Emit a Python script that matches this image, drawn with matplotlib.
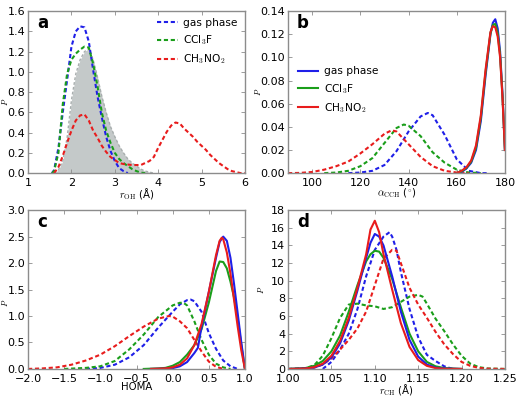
import matplotlib
matplotlib.use("Agg")
import matplotlib.pyplot as plt

# ---------------- Panel a: r_OH ----------------
a_gas_x = [1.55, 1.6, 1.7, 1.8, 1.9, 2.0, 2.1, 2.2, 2.3, 2.4, 2.5, 2.6, 2.7, 2.8, 2.9, 3.0, 3.1, 3.2, 3.3]
a_gas_y = [0, 0.03, 0.25, 0.6, 0.92, 1.25, 1.4, 1.45, 1.44, 1.3, 1.02, 0.76, 0.55, 0.36, 0.22, 0.12, 0.05, 0.02, 0.0]
a_ccl_x = [1.55, 1.6, 1.7, 1.8, 1.9, 2.0, 2.1, 2.2, 2.3, 2.4, 2.5, 2.6, 2.7, 2.8, 2.9, 3.0, 3.1, 3.2, 3.3, 3.4, 3.5, 3.6, 3.7]
a_ccl_y = [0, 0.02, 0.2, 0.68, 0.98, 1.12, 1.18, 1.22, 1.25, 1.24, 1.08, 0.86, 0.6, 0.42, 0.3, 0.2, 0.14, 0.1, 0.07, 0.04, 0.02, 0.005, 0]
a_ch3_x = [1.6, 1.7, 1.8, 1.9, 2.0, 2.1, 2.2, 2.3, 2.4, 2.5, 2.6, 2.7, 2.8, 2.9, 3.0, 3.1, 3.2, 3.4, 3.6, 3.8, 3.9,
           4.0, 4.1, 4.2, 4.3, 4.4, 4.5, 4.6, 4.7, 4.8, 4.9, 5.0, 5.1, 5.2, 5.3, 5.4, 5.5, 5.6, 5.7, 5.8, 5.9, 6.0]
a_ch3_y = [0, 0.06, 0.17, 0.3, 0.42, 0.52, 0.57, 0.58, 0.52, 0.42, 0.35, 0.27, 0.21, 0.16, 0.13, 0.1, 0.09, 0.08, 0.08, 0.12, 0.16,
           0.25, 0.33, 0.41, 0.47, 0.5, 0.49, 0.44, 0.4, 0.36, 0.31, 0.27, 0.23, 0.18, 0.14, 0.1, 0.07, 0.04, 0.02, 0.01, 0.0, 0.0]
a_ref_x = [1.6, 1.7, 1.8, 1.9, 2.0, 2.1, 2.2, 2.3, 2.4, 2.5, 2.6, 2.7, 2.8, 2.9, 3.0, 3.1, 3.2, 3.3, 3.4, 3.5, 3.6, 3.7, 3.8, 3.9]
a_ref_y = [0, 0.03, 0.12, 0.35, 0.72, 0.98, 1.12, 1.2, 1.23, 1.12, 0.95, 0.76, 0.6, 0.46, 0.36, 0.27, 0.2, 0.14, 0.1, 0.07, 0.04, 0.02, 0.01, 0]

# ---------------- Panel b: alpha_CCH ----------------
b_sol_x = [160, 162, 164, 166, 168, 170, 172, 174, 175, 176, 177, 178, 179, 180]
b_gas_sol_y = [0.0, 0.001, 0.004, 0.009, 0.02, 0.045, 0.085, 0.12, 0.13, 0.133, 0.125, 0.105, 0.068, 0.02]
b_ccl_sol_y = [0.0, 0.0015, 0.0045, 0.01, 0.022, 0.048, 0.088, 0.121, 0.128, 0.129, 0.121, 0.102, 0.066, 0.02]
b_ch3_sol_y = [0.0, 0.002, 0.005, 0.011, 0.024, 0.05, 0.09, 0.122, 0.127, 0.126, 0.118, 0.1, 0.065, 0.02]
b_gas_x = [115, 120, 125, 130, 135, 140, 145, 148, 150, 155, 160, 165, 170, 173]
b_gas_y = [0, 0.0005, 0.002, 0.007, 0.019, 0.036, 0.049, 0.052, 0.05, 0.033, 0.012, 0.002, 0.0, 0.0]
b_ccl_x = [105, 110, 115, 120, 125, 130, 135, 138, 140, 145, 150, 155, 160, 165, 170]
b_ccl_y = [0, 0.0005, 0.002, 0.006, 0.013, 0.026, 0.039, 0.042, 0.041, 0.032, 0.018, 0.009, 0.003, 0.0005, 0]
b_ch3_x = [90, 95, 100, 105, 110, 115, 120, 125, 130, 133, 135, 140, 145, 150, 155, 160, 165]
b_ch3_y = [0, 0.0002, 0.001, 0.003, 0.006, 0.01, 0.017, 0.025, 0.034, 0.037, 0.036, 0.025, 0.014, 0.006, 0.002, 0.0005, 0]

# ---------------- Panel c: HOMA ----------------
c_gas_sol_x = [-0.3, -0.1, 0.0, 0.1, 0.2, 0.3, 0.35, 0.4, 0.5, 0.6, 0.65, 0.7, 0.75, 0.8, 0.85, 0.9, 0.95, 1.0]
c_gas_sol_y = [0, 0.005, 0.015, 0.05, 0.13, 0.3, 0.4, 0.8, 1.45, 2.1, 2.4, 2.5, 2.42, 2.1, 1.6, 1.05, 0.5, 0.0]
c_ch3_sol_x = [-0.3, -0.1, 0.0, 0.1, 0.2, 0.3, 0.4, 0.5, 0.6, 0.65, 0.68, 0.7, 0.75, 0.8, 0.85, 0.9, 0.95, 1.0]
c_ch3_sol_y = [0, 0.01, 0.03, 0.08, 0.2, 0.45, 0.85, 1.45, 2.15, 2.42, 2.48, 2.45, 2.2, 1.8, 1.3, 0.8, 0.35, 0.0]
c_ccl_sol_x = [-0.4, -0.2, -0.1, 0.0, 0.1, 0.2, 0.3, 0.4, 0.5, 0.6, 0.65, 0.7, 0.75, 0.8, 0.85, 0.9, 0.95, 1.0]
c_ccl_sol_y = [0, 0.01, 0.02, 0.06, 0.13, 0.27, 0.45, 0.75, 1.25, 1.85, 2.03, 2.02, 1.9, 1.65, 1.35, 0.95, 0.45, 0.0]
c_gas_x = [-1.2, -1.0, -0.8, -0.6, -0.4, -0.2, 0.0, 0.1, 0.2, 0.25, 0.3, 0.4, 0.5, 0.6, 0.7, 0.8, 0.9]
c_gas_y = [0, 0.02, 0.08, 0.22, 0.45, 0.78, 1.08, 1.22, 1.3, 1.31, 1.28, 1.08, 0.68, 0.38, 0.16, 0.05, 0.0]
c_ccl_x = [-1.5, -1.2, -1.0, -0.8, -0.6, -0.4, -0.2, 0.0, 0.1, 0.15, 0.2, 0.3, 0.4, 0.5, 0.6, 0.7, 0.8]
c_ccl_y = [0, 0.02, 0.05, 0.15, 0.37, 0.65, 0.98, 1.2, 1.25, 1.25, 1.2, 0.9, 0.55, 0.27, 0.1, 0.03, 0.0]
c_ch3_x = [-2.0, -1.8, -1.6, -1.4, -1.2, -1.0, -0.8, -0.6, -0.4, -0.2, -0.05, 0.0, 0.1, 0.2, 0.3, 0.4, 0.5, 0.6, 0.7]
c_ch3_y = [0, 0.01, 0.03, 0.08, 0.16, 0.27, 0.43, 0.62, 0.8, 0.95, 1.0, 0.99, 0.9, 0.77, 0.55, 0.33, 0.14, 0.04, 0.0]

# ---------------- Panel d: r_CH ----------------
d_sol_x = [1.00, 1.02, 1.03, 1.04, 1.05, 1.06, 1.07, 1.08, 1.09, 1.095, 1.10, 1.105, 1.11, 1.12, 1.13, 1.14, 1.15, 1.16, 1.17, 1.18, 1.20]
d_ch3_sol_y = [0, 0.05, 0.2, 0.6, 1.5, 3.2, 5.8, 9.2, 13.0, 15.8, 16.8, 15.5, 13.0, 9.0, 5.2, 2.5, 1.0, 0.35, 0.1, 0.02, 0]
d_gas_sol_y = [0, 0.05, 0.15, 0.5, 1.3, 2.9, 5.5, 8.9, 12.6, 14.3, 15.3, 15.0, 14.0, 10.5, 6.5, 3.3, 1.4, 0.5, 0.15, 0.04, 0]
d_ccl_sol_y = [0, 0.1, 0.35, 0.9, 2.0, 3.8, 6.5, 9.5, 12.2, 13.0, 13.4, 13.3, 12.6, 10.2, 7.0, 4.0, 2.0, 0.8, 0.3, 0.1, 0]
d_gas_x = [1.04, 1.05, 1.06, 1.07, 1.08, 1.09, 1.10, 1.11, 1.117, 1.12, 1.125, 1.13, 1.14, 1.15, 1.16, 1.17, 1.18, 1.19]
d_gas_y = [0, 0.8, 2.2, 4.0, 6.8, 10.5, 13.5, 15.0, 15.5, 15.0, 13.5, 11.0, 6.8, 3.6, 1.6, 0.9, 0.3, 0.0]
d_ch3_x = [1.02, 1.03, 1.04, 1.05, 1.06, 1.07, 1.08, 1.09, 1.10, 1.11, 1.12, 1.125, 1.13, 1.14, 1.15, 1.16, 1.17, 1.18, 1.19, 1.20, 1.21, 1.22, 1.23, 1.25]
d_ch3_y = [0, 0.15, 0.5, 1.2, 2.2, 3.3, 4.6, 6.5, 9.5, 12.5, 13.5, 13.4, 12.0, 9.2, 7.3, 5.8, 4.2, 2.8, 1.7, 0.8, 0.35, 0.12, 0.03, 0]
d_ccl_x = [1.00, 1.02, 1.03, 1.04, 1.05, 1.06, 1.07, 1.08, 1.09, 1.10, 1.11, 1.12, 1.13, 1.14, 1.15, 1.155, 1.16, 1.17, 1.18, 1.19, 1.20, 1.21, 1.22, 1.23, 1.25]
d_ccl_y = [0, 0.1, 0.4, 1.5, 3.5, 5.8, 7.3, 7.4, 7.2, 7.1, 6.8, 7.0, 7.6, 8.2, 8.4, 8.2, 7.4, 5.7, 4.3, 2.8, 1.5, 0.6, 0.2, 0.05, 0]

labels = ["gas phase", "CCl$_3$F", "CH$_3$NO$_2$"]
C_BLUE, C_GREEN, C_RED = "#1f1fe8", "#1a9e1a", "#e81c1c"
SPINE = "#8c8c8c"
DASH = (2.0, 1.3)
LW = 1.5

plt.rcParams["font.family"] = "DejaVu Sans"
plt.rcParams["mathtext.fontset"] = "cm"

fig = plt.figure(figsize=(5.2, 3.98), dpi=100)
axa = fig.add_axes([0.054, 0.565, 0.417, 0.407])
axb = fig.add_axes([0.554, 0.565, 0.417, 0.407])
axc = fig.add_axes([0.054, 0.073, 0.417, 0.399])
axd = fig.add_axes([0.554, 0.073, 0.417, 0.399])

def style(ax, letter, xlabel, ylab_x, ylab_y=0.5):
    for s in ax.spines.values():
        s.set_color(SPINE)
        s.set_linewidth(1.0)
    ax.tick_params(direction="in", top=True, right=True, colors=SPINE,
                   labelcolor="black", labelsize=8, length=3, width=0.6)
    ax.tick_params(axis="y", pad=2)
    ax.tick_params(axis="x", pad=3.5)
    ax.set_ylabel("$P$", fontsize=6)
    ax.yaxis.set_label_coords(ylab_x, ylab_y)
    ax.set_xlabel(xlabel, fontsize=7.3)
    ax.xaxis.set_label_coords(0.5, -0.085)
    ax.text(0.04, 0.925, letter, transform=ax.transAxes, fontsize=12,
            fontweight="bold", va="center", ha="left")

def dline(ax, x, y, c, label=None):
    ax.plot(x, y, color=c, lw=LW, linestyle="--", dashes=DASH, label=label)

LEG = dict(frameon=False, fontsize=7.7, handlelength=1.9, handletextpad=0.55,
           labelspacing=0.5)

# Panel a
axa.fill_between(a_ref_x, a_ref_y, color="#c4c9c9", lw=0)
axa.plot(a_ref_x, a_ref_y, color="#a8aeae", lw=1.0, linestyle="--", dashes=(2, 1.5))
dline(axa, a_gas_x, a_gas_y, C_BLUE, labels[0])
dline(axa, a_ccl_x, a_ccl_y, C_GREEN, labels[1])
dline(axa, a_ch3_x, a_ch3_y, C_RED, labels[2])
axa.set_xlim(1, 6)
axa.set_ylim(0, 1.6)
axa.set_xticks([1, 2, 3, 4, 5, 6])
axa.set_yticks([0.0, 0.2, 0.4, 0.6, 0.8, 1.0, 1.2, 1.4, 1.6])
axa.set_yticklabels(["0.0", "0.2", "0.4", "0.6", "0.8", "1.0", "1.2", "1.4", "1.6"])
style(axa, "a", r"$r_{\rm OH}$ (Å)", -0.083, 0.4375)
axa.legend(loc="upper right", borderaxespad=0.25, **LEG)

# Panel b
dline(axb, b_gas_x, b_gas_y, C_BLUE)
dline(axb, b_ccl_x, b_ccl_y, C_GREEN)
dline(axb, b_ch3_x, b_ch3_y, C_RED)
axb.plot(b_sol_x, b_gas_sol_y, color=C_BLUE, lw=LW, label=labels[0])
axb.plot(b_sol_x, b_ccl_sol_y, color=C_GREEN, lw=LW, label=labels[1])
axb.plot(b_sol_x, b_ch3_sol_y, color=C_RED, lw=LW, label=labels[2])
axb.set_xlim(90, 180)
axb.set_ylim(0, 0.14)
axb.set_xticks([100, 120, 140, 160, 180])
axb.set_yticks([0.0, 0.02, 0.04, 0.06, 0.08, 0.10, 0.12, 0.14])
axb.set_yticklabels(["0.00", "0.02", "0.04", "0.06", "0.08", "0.10", "0.12", "0.14"])
style(axb, "b", r"$\alpha_{\rm CCH}$ ($^{\circ}$)", -0.115)
axb.legend(loc="center left", bbox_to_anchor=(0.0, 0.51), **LEG)

# Panel c
dline(axc, c_gas_x, c_gas_y, C_BLUE)
dline(axc, c_ccl_x, c_ccl_y, C_GREEN)
dline(axc, c_ch3_x, c_ch3_y, C_RED)
axc.plot(c_ccl_sol_x, c_ccl_sol_y, color=C_GREEN, lw=LW)
axc.plot(c_gas_sol_x, c_gas_sol_y, color=C_BLUE, lw=LW)
axc.plot(c_ch3_sol_x, c_ch3_sol_y, color=C_RED, lw=LW)
axc.set_xlim(-2, 1)
axc.set_ylim(0, 3)
axc.set_xticks([-2.0, -1.5, -1.0, -0.5, 0.0, 0.5, 1.0])
axc.set_xticklabels(["\u22122.0", "\u22121.5", "\u22121.0", "\u22120.5", "0.0", "0.5", "1.0"])
axc.set_yticks([0.0, 0.5, 1.0, 1.5, 2.0, 2.5, 3.0])
axc.set_yticklabels(["0.0", "0.5", "1.0", "1.5", "2.0", "2.5", "3.0"])
style(axc, "c", "HOMA", -0.083, 0.4167)

# Panel d
dline(axd, d_gas_x, d_gas_y, C_BLUE)
dline(axd, d_ccl_x, d_ccl_y, C_GREEN)
dline(axd, d_ch3_x, d_ch3_y, C_RED)
axd.plot(d_sol_x, d_ccl_sol_y, color=C_GREEN, lw=LW)
axd.plot(d_sol_x, d_gas_sol_y, color=C_BLUE, lw=LW)
axd.plot(d_sol_x, d_ch3_sol_y, color=C_RED, lw=LW)
axd.set_xlim(1.0, 1.25)
axd.set_ylim(0, 18)
axd.set_xticks([1.00, 1.05, 1.10, 1.15, 1.20, 1.25])
axd.set_xticklabels(["1.00", "1.05", "1.10", "1.15", "1.20", "1.25"])
axd.set_yticks([0, 2, 4, 6, 8, 10, 12, 14, 16, 18])
style(axd, "d", r"$r_{\rm CH}$ (Å)", -0.1)

fig.savefig("out.png", dpi=100)
